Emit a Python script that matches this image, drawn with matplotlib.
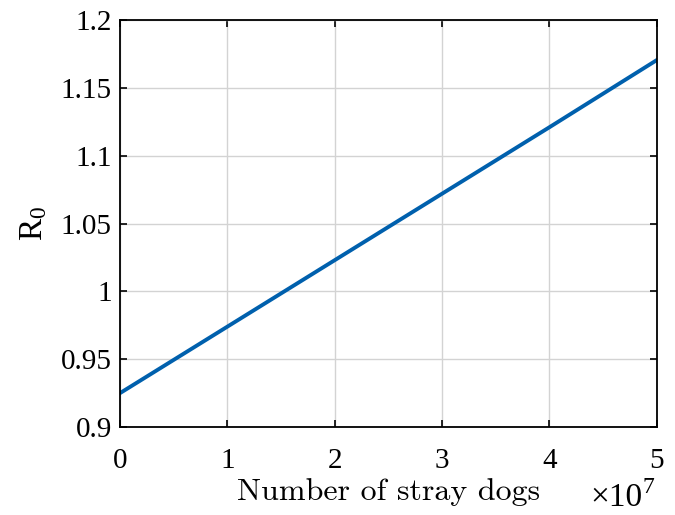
import matplotlib.pyplot as plt
from matplotlib.ticker import FuncFormatter

plt.rcParams['font.family'] = ['Liberation Serif', 'DejaVu Serif']
plt.rcParams['mathtext.fontset'] = 'custom'
plt.rcParams['mathtext.rm'] = 'Liberation Serif'
plt.rcParams['mathtext.it'] = 'Liberation Serif'

# number of stray dogs vs basic reproduction number
dogs = [0, 1e7, 2e7, 3e7, 4e7, 5e7]
r0 = [0.925, 0.974, 1.023, 1.072, 1.121, 1.1705]

x_ticks = [0, 1e7, 2e7, 3e7, 4e7, 5e7]
y_ticks = [0.9, 0.95, 1.0, 1.05, 1.1, 1.15, 1.2]
y_labels = ['0.9', '0.95', '1', '1.05', '1.1', '1.15', '1.2']

fig = plt.figure(figsize=(6.75, 5.15), dpi=100)
ax = fig.add_axes([0.178, 0.171, 0.795, 0.79])

ax.plot(dogs, r0, color='#0060ad', linewidth=2.8)

ax.set_xlim(0, 5e7)
ax.set_ylim(0.9, 1.2)
ax.set_xticks(x_ticks)
ax.xaxis.set_major_formatter(FuncFormatter(lambda v, p: f"{v / 1e7:g}"))
ax.set_yticks(y_ticks)
ax.set_yticklabels(y_labels)

ax.grid(True, color='#d3d3d3', linewidth=1)
ax.tick_params(direction='in', top=True, right=True, labelsize=21, length=5, width=1.2)
ax.tick_params(axis='x', pad=15)
ax.tick_params(axis='y', pad=6)
for s in ax.spines.values():
    s.set_linewidth(1.3)

ax.set_xlabel('Number of stray dogs', fontsize=23, family='cmr10', labelpad=3)
ax.set_ylabel('R$_0$', fontsize=24, labelpad=8)

# exponent label, MATLAB style
fig.text(642 / 675, 1 - 506 / 515, '×10', ha='right', va='baseline', fontsize=24)
fig.text(643 / 675, 1 - 493 / 515, '7', ha='left', va='baseline', fontsize=17)

plt.savefig('out.png', dpi=100)
